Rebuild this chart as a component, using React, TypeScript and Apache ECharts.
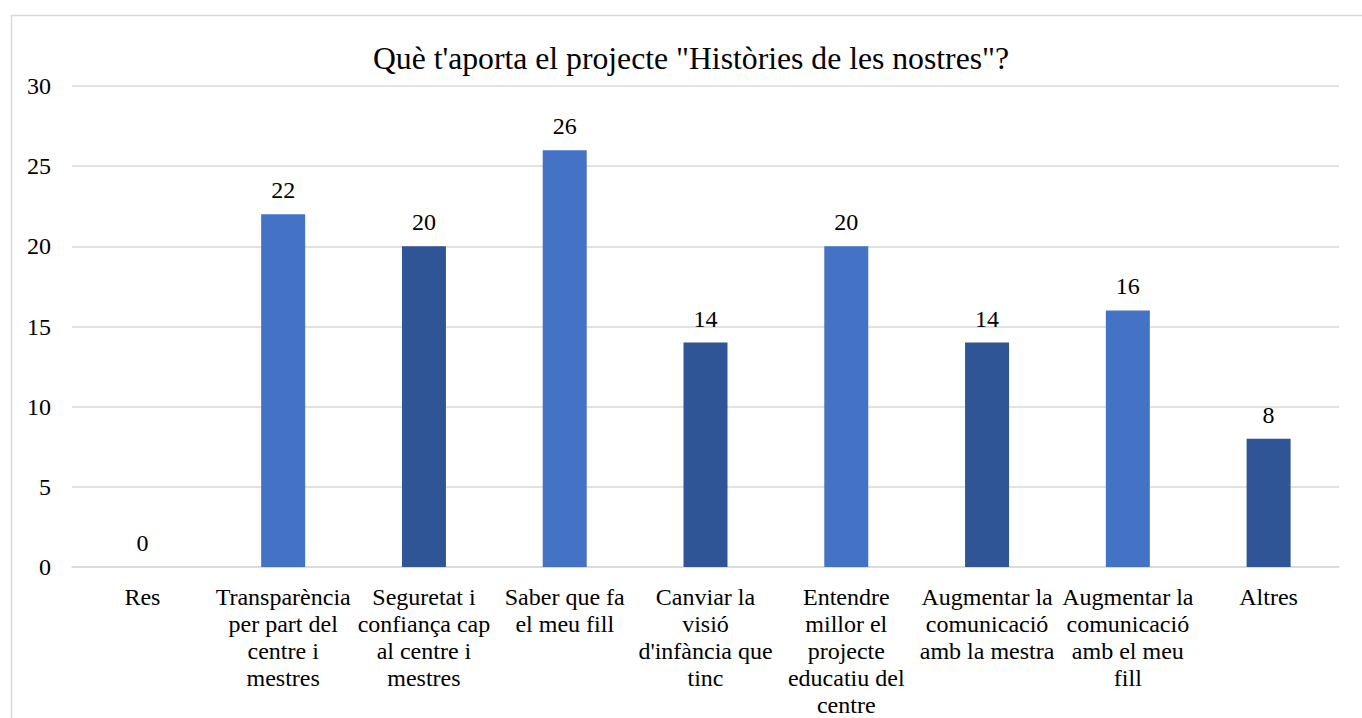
import React, { useEffect, useRef } from "react";
import * as echarts from "echarts";

const titleText = 'Què t\'aporta el projecte "Històries de les nostres"?';
const categories = [
  "Res",
  "Transparència\nper part del\ncentre i\nmestres",
  "Seguretat i\nconfiança cap\nal centre i\nmestres",
  "Saber que fa\nel meu fill",
  "Canviar la\nvisió\nd'infància que\ntinc",
  "Entendre\nmillor el\nprojecte\neducatiu del\ncentre",
  "Augmentar la\ncomunicació\namb la mestra",
  "Augmentar la\ncomunicació\namb el meu\nfill",
  "Altres",
];
const values = [0, 22, 20, 26, 14, 20, 14, 16, 8];
const barColors = ["#2F5597", "#4472C4", "#2F5597", "#4472C4", "#2F5597", "#4472C4", "#2F5597", "#4472C4", "#2F5597"];

const FONT = "Liberation Serif";

export default function App() {
  const ref = useRef<HTMLDivElement>(null);
  useEffect(() => {
    const chart = echarts.init(ref.current!, null, { renderer: "svg" });
    chart.setOption({
      animation: false,
      backgroundColor: "#fff",
      textStyle: { fontFamily: FONT },
      title: {
        text: titleText,
        left: 686,
        textAlign: "center",
        top: 37,
        textStyle: { fontFamily: FONT, fontSize: 31.7, fontWeight: "normal", color: "#000" },
      },
      graphic: [
        {
          type: "rect",
          shape: { x: 11.5, y: 15.5, width: 1400, height: 800 },
          style: { fill: "none", stroke: "#D9D9D9", lineWidth: 1.5 },
          silent: true,
        },
      ],
      grid: { left: 72, right: 23, top: 86, bottom: 149 },
      xAxis: {
        type: "category",
        data: categories,
        axisLine: { show: true, lineStyle: { color: "#D9D9D9", width: 1.5 } },
        axisTick: { show: false },
        axisLabel: {
          interval: 0,
          margin: 16,
          color: "#000",
          fontFamily: FONT,
          fontSize: 24,
          lineHeight: 27,
          align: "center",
        },
      },
      yAxis: {
        type: "value",
        min: 0,
        max: 30,
        interval: 5,
        axisLine: { show: false },
        axisTick: { show: false },
        splitLine: { lineStyle: { color: "#D9D9D9", width: 1.5 } },
        axisLabel: { color: "#000", fontFamily: FONT, fontSize: 24, margin: 21 },
      },
      series: [
        {
          type: "bar",
          barWidth: 44,
          data: values.map((v, i) => ({ value: v, itemStyle: { color: barColors[i] } })),
          label: {
            show: true,
            position: "top",
            distance: 12,
            color: "#000",
            fontFamily: FONT,
            fontSize: 24,
          },
        },
      ],
    });
    return () => chart.dispose();
  }, []);
  return (
    <div
      ref={ref}
      style={{ position: "absolute", left: 0, top: 0, width: 1362, height: 718 }}
    />
  );
}
